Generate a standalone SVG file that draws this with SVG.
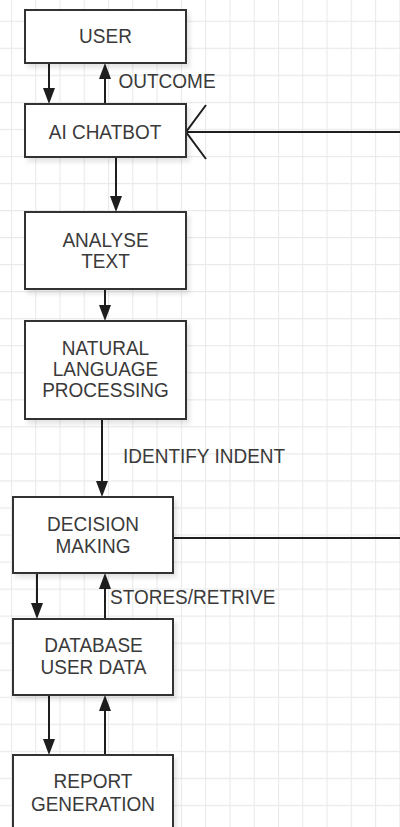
<svg xmlns="http://www.w3.org/2000/svg" width="400" height="827" viewBox="0 0 400 827">
  <defs>
    <!-- light background grid -->
    <pattern id="grid" patternUnits="userSpaceOnUse" x="10.9" y="20.7" width="24.28" height="27.04">
      <path d="M0.5,0 V27.04 M0,0.5 H24.28" fill="none" stroke="#e9e9e9" stroke-width="1.2"/>
    </pattern>
    <filter id="shadow" x="-10%" y="-10%" width="125%" height="130%">
      <feDropShadow dx="3" dy="4" stdDeviation="2" flood-color="#000" flood-opacity="0.10"/>
    </filter>
    <marker id="head" markerUnits="userSpaceOnUse" markerWidth="16" markerHeight="12" refX="6" refY="6" orient="auto">
      <path d="M0,0 L16,6 L0,12 Z" fill="#1e1e1e"/>
    </marker>
  </defs>
  <style>
    .box { fill: #ffffff; stroke: #333333; stroke-width: 2; filter: url(#shadow); }
    .t { font-family: "Liberation Sans", Arial, sans-serif; font-size: 19px; fill: #3a3a3a; text-anchor: middle; }
    .lbl { font-family: "Liberation Sans", Arial, sans-serif; font-size: 19px; fill: #3a3a3a; text-anchor: start; }
    .edge { fill: none; stroke: #1e1e1e; stroke-width: 2; }
    .arrow { marker-end: url(#head); }
  </style>

  <rect x="0" y="0" width="400" height="827" fill="#ffffff"/>
  <rect x="0" y="0" width="400" height="827" fill="url(#grid)"/>

  <!-- connectors -->
  <g id="connectors">
    <line class="edge arrow" x1="49" y1="63" x2="49" y2="94"/>
    <line class="edge arrow" x1="105" y1="104" x2="105" y2="73"/>
    <line class="edge" x1="400" y1="132" x2="186" y2="132"/>
    <polyline class="edge" points="206,105 186,132 206,159"/>
    <line class="edge arrow" x1="116" y1="157" x2="116" y2="202"/>
    <line class="edge arrow" x1="105" y1="289" x2="105" y2="311"/>
    <line class="edge arrow" x1="102" y1="419" x2="102" y2="487"/>
    <line class="edge" x1="173" y1="538" x2="400" y2="538"/>
    <line class="edge arrow" x1="37" y1="573" x2="37" y2="609"/>
    <line class="edge arrow" x1="105" y1="619" x2="105" y2="583"/>
    <line class="edge arrow" x1="49" y1="695" x2="49" y2="745"/>
    <line class="edge arrow" x1="105" y1="755" x2="105" y2="705"/>
    <text class="lbl" transform="translate(118.5,87.5) scale(1,1.1)">OUTCOME</text>
    <text class="lbl" transform="translate(123,462.5) scale(1,1.1)">IDENTIFY INDENT</text>
    <text class="lbl" transform="translate(110,604) scale(1,1.1)">STORES/RETRIVE</text>
  </g>

  <!-- nodes -->
  <g id="user">
    <rect class="box" x="25" y="10" width="161" height="53"/>
    <text class="t" transform="translate(105.5,42.5) scale(1,1.1)">USER</text>
  </g>
  <g id="ai-chatbot">
    <rect class="box" x="25" y="104" width="161" height="53"/>
    <text class="t" transform="translate(105,138.5) scale(1,1.1)">AI CHATBOT</text>
  </g>
  <g id="analyse-text">
    <rect class="box" x="25" y="212" width="161" height="77"/>
    <text class="t" transform="translate(105.5,246.5) scale(1,1.1)">ANALYSE</text>
    <text class="t" transform="translate(105.5,267.5) scale(1,1.1)">TEXT</text>
  </g>
  <g id="nlp">
    <rect class="box" x="25" y="321" width="161" height="98"/>
    <text class="t" transform="translate(105.5,355) scale(1,1.1)">NATURAL</text>
    <text class="t" transform="translate(105.5,376) scale(1,1.1)">LANGUAGE</text>
    <text class="t" transform="translate(105.5,397) scale(1,1.1)">PROCESSING</text>
  </g>
  <g id="decision-making">
    <rect class="box" x="13" y="497" width="160" height="76"/>
    <text class="t" transform="translate(93,530.5) scale(1,1.1)">DECISION</text>
    <text class="t" transform="translate(93,552.5) scale(1,1.1)">MAKING</text>
  </g>
  <g id="database">
    <rect class="box" x="13" y="619" width="160" height="76"/>
    <text class="t" transform="translate(93.5,651.5) scale(1,1.1)">DATABASE</text>
    <text class="t" transform="translate(93.5,674) scale(1,1.1)">USER DATA</text>
  </g>
  <g id="report-generation">
    <rect class="box" x="13" y="755" width="160" height="84"/>
    <text class="t" transform="translate(93,787.5) scale(1,1.1)">REPORT</text>
    <text class="t" transform="translate(93,810.5) scale(1,1.1)">GENERATION</text>
  </g>
</svg>
